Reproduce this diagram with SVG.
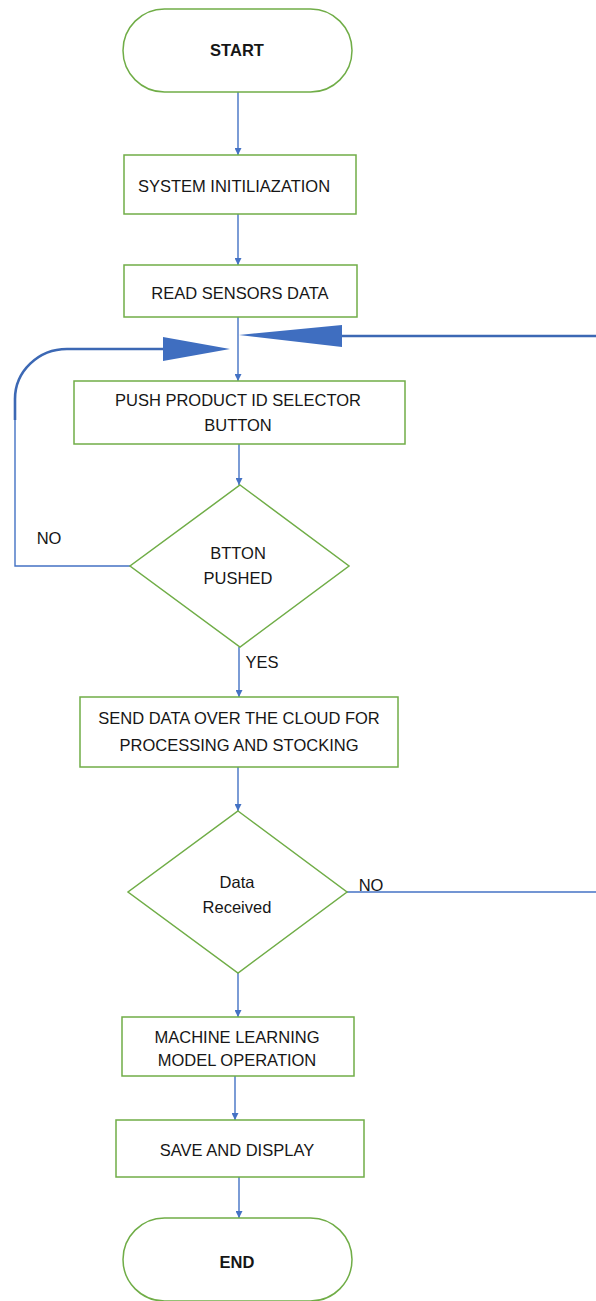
<svg xmlns="http://www.w3.org/2000/svg" width="596" height="1301" viewBox="0 0 596 1301">
  <style>
    .box { fill: #ffffff; stroke: #70AD47; stroke-width: 1.5; }
    .txt { font-family: "Liberation Sans", Arial, sans-serif; font-size: 16.5px; fill: #161616; text-anchor: middle; }
    .bold { font-weight: bold; }
    .flow { fill: none; stroke: #4472C4; stroke-width: 1.4; }
    .loop { fill: none; stroke: #3C68B4; stroke-width: 2.6; }
    .head { fill: #3F6EC0; stroke: none; }
  </style>
  <defs>
    <marker id="arrow" viewBox="0 0 10 10" refX="10" refY="5" markerWidth="7" markerHeight="7" markerUnits="userSpaceOnUse" orient="auto">
      <path d="M0,0 L10,5 L0,10 z" fill="#4472C4"/>
    </marker>
  </defs>

  <rect width="596" height="1301" fill="#ffffff"/>

  <!-- connectors -->
  <g id="connectors">
    <line class="flow" x1="238" y1="92" x2="238" y2="155" marker-end="url(#arrow)"/>
    <line class="flow" x1="238" y1="214" x2="238" y2="265" marker-end="url(#arrow)"/>
    <line class="flow" x1="238" y1="317" x2="238" y2="381" marker-end="url(#arrow)"/>
    <line class="flow" x1="239" y1="444" x2="239" y2="485" marker-end="url(#arrow)"/>
    <line class="flow" x1="239" y1="647" x2="239" y2="697" marker-end="url(#arrow)"/>
    <line class="flow" x1="238" y1="767" x2="238" y2="811" marker-end="url(#arrow)"/>
    <line class="flow" x1="238" y1="973" x2="238" y2="1017" marker-end="url(#arrow)"/>
    <line class="flow" x1="235" y1="1076" x2="235" y2="1120" marker-end="url(#arrow)"/>
    <line class="flow" x1="239" y1="1177" x2="239" y2="1218" marker-end="url(#arrow)"/>

    <!-- NO branch of the first decision, looping back -->
    <path class="flow" d="M130,566 L15,566 L15,420"/>
    <path class="loop" d="M15,420 L15,399 A52,50 0 0 1 67,349 L165,349"/>
    <polygon class="head" points="163,337 230,349 163,361"/>

    <!-- NO branch of the second decision, returning on the right -->
    <line class="flow" x1="347" y1="892" x2="596" y2="892"/>
    <line class="loop" x1="596" y1="336" x2="340" y2="336"/>
    <polygon class="head" points="342,325 239,335 342,347"/>

    <text class="txt" x="49" y="544">NO</text>
    <text class="txt" x="262" y="668">YES</text>
    <text class="txt" x="371" y="891">NO</text>
  </g>

  <g id="start">
    <rect class="box" x="123" y="9" width="229" height="83" rx="41.5"/>
    <text class="txt bold" x="237" y="56">START</text>
  </g>

  <g id="system-init">
    <rect class="box" x="124" y="155" width="232" height="59"/>
    <text class="txt" x="234" y="192">SYSTEM INITILIAZATION</text>
  </g>

  <g id="read-sensors">
    <rect class="box" x="124" y="265" width="233" height="52"/>
    <text class="txt" x="240" y="299">READ SENSORS DATA</text>
  </g>

  <g id="push-button">
    <rect class="box" x="74" y="381" width="331" height="63"/>
    <text class="txt" x="238" y="406">PUSH PRODUCT ID SELECTOR</text>
    <text class="txt" x="238" y="431">BUTTON</text>
  </g>

  <g id="button-pushed">
    <polygon class="box" points="240,485 349,566 240,647 130,566"/>
    <text class="txt" x="238" y="559">BTTON</text>
    <text class="txt" x="238" y="584">PUSHED</text>
  </g>

  <g id="send-data">
    <rect class="box" x="80" y="697" width="318" height="70"/>
    <text class="txt" x="239" y="724">SEND DATA OVER THE CLOUD FOR</text>
    <text class="txt" x="239" y="751">PROCESSING AND STOCKING</text>
  </g>

  <g id="data-received">
    <polygon class="box" points="238,811 347,892 238,973 128,892"/>
    <text class="txt" x="237" y="888">Data</text>
    <text class="txt" x="237" y="913">Received</text>
  </g>

  <g id="ml-model">
    <rect class="box" x="122" y="1017" width="232" height="59"/>
    <text class="txt" x="237" y="1043">MACHINE LEARNING</text>
    <text class="txt" x="237" y="1066">MODEL OPERATION</text>
  </g>

  <g id="save-display">
    <rect class="box" x="116" y="1120" width="248" height="57"/>
    <text class="txt" x="237" y="1156">SAVE AND DISPLAY</text>
  </g>

  <g id="end">
    <rect class="box" x="123" y="1218" width="229" height="83" rx="41.5"/>
    <text class="txt bold" x="237" y="1268">END</text>
  </g>
</svg>
